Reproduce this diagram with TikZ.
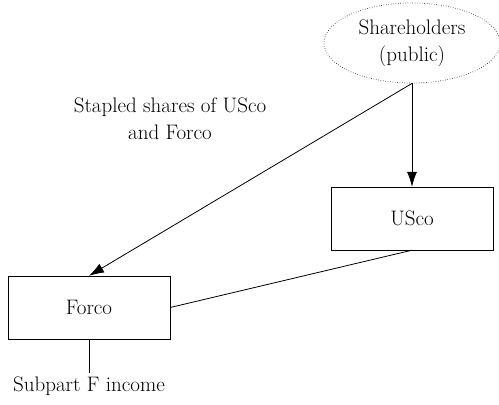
\documentclass[tikz,border=0pt]{standalone}
\usepackage{amsmath}
\usepackage{tikz}
\usetikzlibrary{shapes.geometric,arrows.meta}

\begin{document}
\begin{tikzpicture}[x=1pt,y=-1pt,font=\fontsize{21}{27}\selectfont]
            \useasboundingbox (0,0) rectangle (499,405);
            \begin{scope}[every node/.style={draw,thin,minimum width=162pt,minimum height=63pt,inner sep=0pt}]
                \node[ellipse,dotted,line width=0.8pt,minimum width=176pt,minimum height=80pt,align=center] (sh) at (412,43) {Shareholders\\(public)};
                \node (us) at (412,218.5) {USco};
                \node (fo) at (89,307.5) {Forco};
            \end{scope}
            \node[align=center] (lab) at (170,119) {Stapled shares of USco\\and Forco};
            \node (inc) at (89,386) {Subpart F income};
            \begin{scope}[every edge/.style={draw,thick}]
                \path [-{Latex[length=15pt,width=10pt]}] (sh.south) edge node {} (us.north);
                \path [-{Latex[length=15pt,width=10pt]}] (sh.south) edge node {} (fo.north);
                \path [-] (us.south) edge node {} (fo.east);
                \path [-] (fo.south) edge node {} (inc.north);
            \end{scope}
        \end{tikzpicture}
\end{document}
